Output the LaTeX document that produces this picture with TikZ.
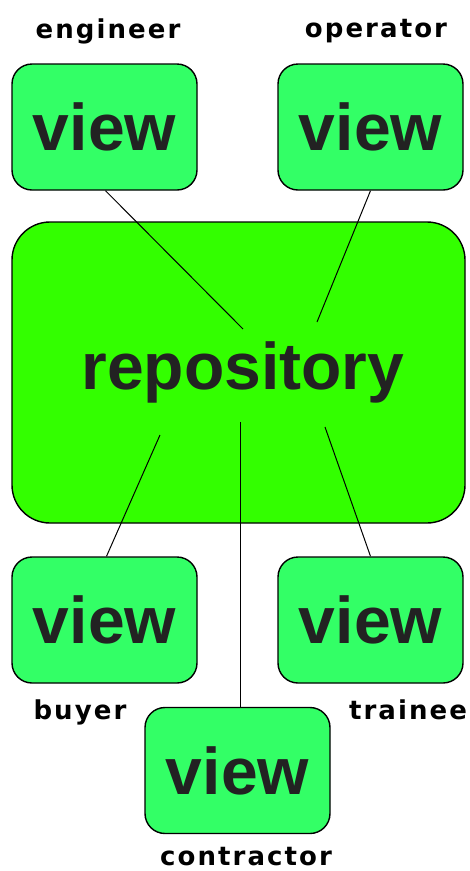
\documentclass[tikz,border=0pt]{standalone}
\usepackage{fontspec}
\setmainfont{Liberation Sans}
\newfontfamily\labelfont[LetterSpace=8]{DejaVu Sans}
\definecolor{viewgreen}{RGB}{51,255,102}
\definecolor{repogreen}{RGB}{51,255,0}
\definecolor{txt}{RGB}{34,34,34}
\begin{document}
\begin{tikzpicture}[x=1pt,y=-1pt,
  viewbox/.style={draw=black, line width=1.4pt, fill=viewgreen, rounded corners=20pt,
    minimum width=185pt, minimum height=126pt, inner sep=0pt, text=txt,
    font=\fontsize{66}{70}\selectfont\bfseries},
  repobox/.style={draw=black, line width=1.4pt, fill=repogreen, rounded corners=38pt,
    minimum width=453pt, minimum height=301pt, inner sep=0pt, text=txt,
    font=\fontsize{66}{70}\selectfont\bfseries},
  lbl/.style={anchor=base, inner sep=0pt, text=black, font=\labelfont\fontsize{26}{28}\selectfont\bfseries},
  link/.style={draw=black, line width=1pt}]
\useasboundingbox (0,0) rectangle (470,871);
\fill[white] (0,0) rectangle (470,871);
% repository
\node[repobox] (repo) at (238.5,372.5) {\hspace*{9pt}repository};
% views
\node[viewbox] (ev) at (104.5,127) {view};
\node[viewbox] (ov) at (370.5,127) {view};
\node[viewbox] (bv) at (104.5,620) {view};
\node[viewbox] (tv) at (370.5,620) {view};
\node[viewbox] (cv) at (237.5,770.5) {view};
% labels
\node[lbl] (le) at (108,38) {engineer};
\node[lbl] (lo) at (376,37) {operator};
\node[lbl] (lb) at (80,719) {buyer};
\node[lbl] (lt) at (408,719) {trainee};
\node[lbl] (lc) at (246,865) {contractor};
% connector ends inside repository
\coordinate (e1) at (243,329);
\coordinate (o1) at (317,322);
\coordinate (b1) at (160,435);
\coordinate (c1) at (240,422);
\coordinate (t1) at (325,427);
\draw[link] (ev.south) ++(1,0) -- (e1);
\draw[link] (ov.south) -- (o1);
\draw[link] (bv.north) ++(2,0) -- (b1);
\draw[link] (cv.north) ++(2.5,0) -- (c1);
\draw[link] (tv.north) -- (t1);
\end{tikzpicture}
\end{document}
